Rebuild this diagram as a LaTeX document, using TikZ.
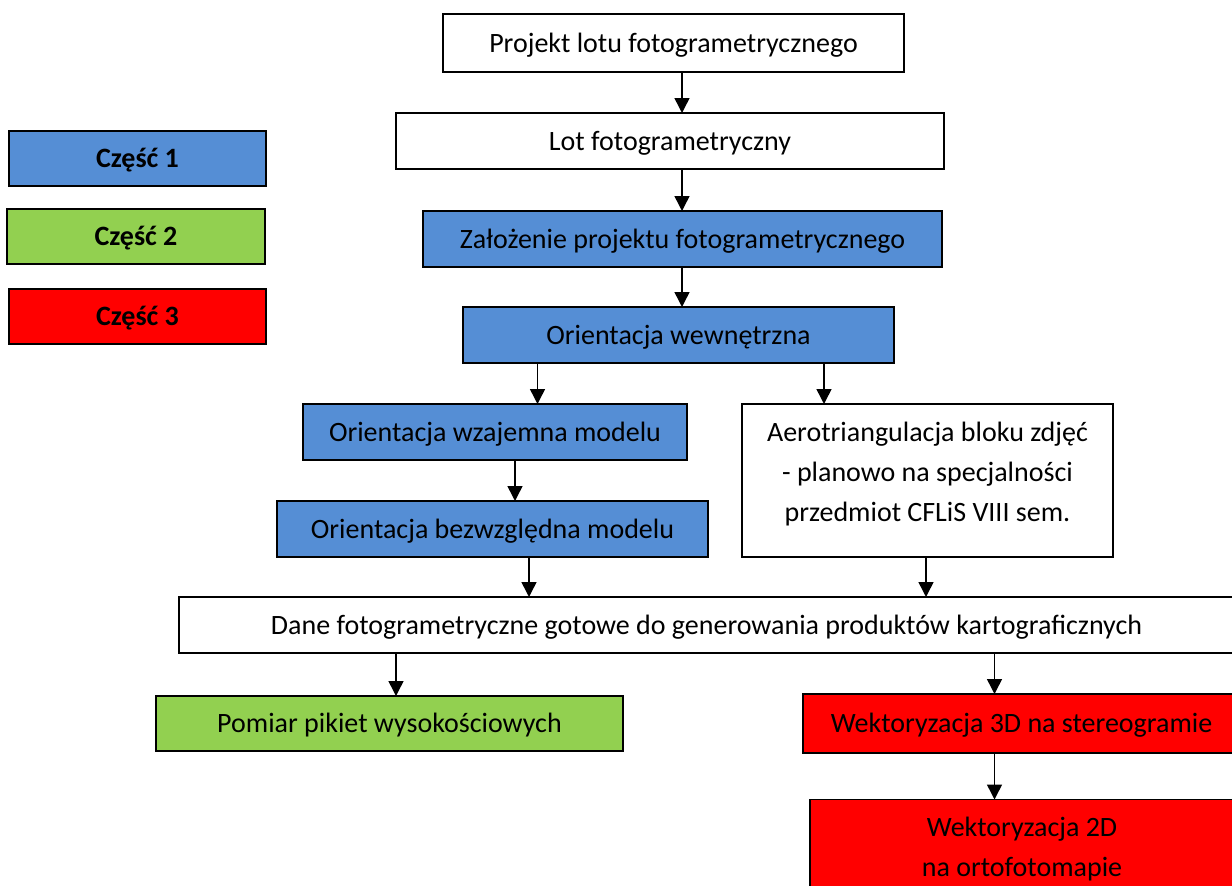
\documentclass[tikz,border=0pt]{standalone}
\usepackage{fontspec}
\setmainfont{Carlito}
\usetikzlibrary{arrows.meta}
\definecolor{partblue}{HTML}{558ED5}
\definecolor{partgreen}{HTML}{92D050}
\definecolor{partred}{HTML}{FF0000}
\begin{document}
\begin{tikzpicture}[x=1pt,y=-1pt,
  box/.style={draw=black, line width=1.5pt, inner sep=0pt, outer sep=0pt,
    font=\fontsize{28}{40}\selectfont, align=center},
  oneline/.style={text height=24pt, text depth=6pt},
  legend/.style={box, oneline, line width=2.4pt, font=\fontsize{28}{40}\selectfont\bfseries},
  arr/.style={line width=1.5pt, -{Triangle[length=15pt,width=15pt]}}]
\useasboundingbox (0,0) rectangle (1232,886);
\clip (0,0) rectangle (1232,886);
% legend
\node[legend, fill=partblue, minimum width=257pt, minimum height=55pt] (l1) at (137.5,158.5) {Część 1};
\node[legend, fill=partgreen, minimum width=258pt, minimum height=55pt] (l2) at (136,236.5) {Część 2};
\node[legend, fill=partred, minimum width=257pt, minimum height=55pt] (l3) at (137.5,316.5) {Część 3};
% flow boxes
\node[box, oneline, fill=white, minimum width=461pt, minimum height=58pt] (pr) at (673.5,43) {Projekt lotu fotogrametrycznego};
\node[box, oneline, fill=white, minimum width=548pt, minimum height=56pt] (lot) at (670,141) {Lot fotogrametryczny};
\node[box, oneline, fill=partblue, minimum width=519pt, minimum height=56pt] (za) at (682.5,239) {Założenie projektu fotogrametrycznego};
\node[box, oneline, fill=partblue, minimum width=431pt, minimum height=56pt] (ow) at (678.5,335) {Orientacja wewnętrzna};
\node[box, oneline, fill=partblue, minimum width=384pt, minimum height=56pt] (wz) at (495,432) {Orientacja wzajemna modelu};
\node[box, oneline, fill=partblue, minimum width=431pt, minimum height=56pt] (bz) at (492.5,529) {Orientacja bezwzględna modelu};
\node[box, fill=white, minimum width=371pt, minimum height=153pt] (ae) at (927.5,480.5) {};
\node[inner sep=0pt, align=center, font=\fontsize{28}{40}\selectfont] (aet) at ([yshift=6pt]ae.center)
  {Aerotriangulacja bloku zdjęć\\- planowo na specjalności\\przedmiot CFLiS VIII sem.};
\node[box, oneline, fill=white, minimum width=1055pt, minimum height=56pt] (da) at (706.5,625)
  {Dane fotogrametryczne gotowe do generowania produktów kartograficznych};
\node[box, oneline, fill=partgreen, minimum width=467pt, minimum height=55pt] (po) at (389.5,723.5) {Pomiar pikiet wysokościowych};
\node[box, oneline, fill=partred, minimum width=437pt, minimum height=59pt] (w3) at (1021.5,723.5) {Wektoryzacja 3D na stereogramie};
\node[box, fill=partred, minimum width=424pt, minimum height=99pt] (w2) at (1022,849) {Wektoryzacja 2D\\na ortofotomapie};
% arrow columns
\coordinate (xa) at (682,0);
\coordinate (xb) at (537.5,0);
\coordinate (xc) at (824,0);
\coordinate (xd) at (515,0);
\coordinate (xe) at (529,0);
\coordinate (xf) at (926,0);
\coordinate (xg) at (396,0);
\coordinate (xh) at (994.5,0);
% connectors
\draw[arr] (pr.south -| xa) -- (lot.north -| xa);
\draw[arr] (lot.south -| xa) -- (za.north -| xa);
\draw[arr] (za.south -| xa) -- (ow.north -| xa);
\draw[arr] (ow.south -| xb) -- (wz.north -| xb);
\draw[arr] (ow.south -| xc) -- (ae.north -| xc);
\draw[arr] (wz.south -| xd) -- (bz.north -| xd);
\draw[arr] (bz.south -| xe) -- (da.north -| xe);
\draw[arr] (ae.south -| xf) -- (da.north -| xf);
\draw[arr] (da.south -| xg) -- (po.north -| xg);
\draw[arr] (da.south -| xh) -- (w3.north -| xh);
\draw[arr] (w3.south -| xh) -- (w2.north -| xh);
\end{tikzpicture}
\end{document}
